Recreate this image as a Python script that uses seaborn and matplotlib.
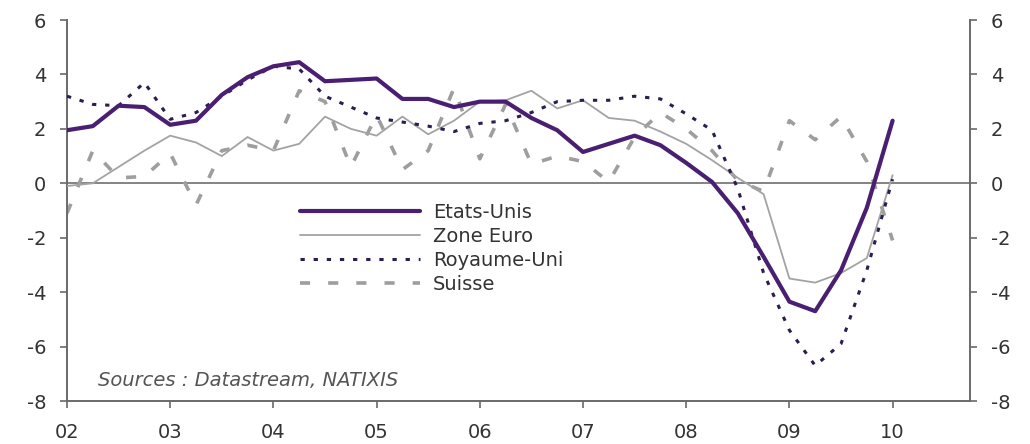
import numpy as np
import pandas as pd
import matplotlib
matplotlib.use("Agg")
import matplotlib.pyplot as plt
import seaborn as sns

# ---- data (quarterly, 2002Q1 .. 2010Q1) ----
periods = pd.period_range("2002Q1", "2010Q1", freq="Q")
etats_unis = [1.95, 2.1, 2.85, 2.8, 2.15, 2.3, 3.25, 3.9, 4.3, 4.45, 3.75, 3.8,
              3.85, 3.1, 3.1, 2.8, 3.0, 3.0, 2.4, 1.95, 1.15, 1.45, 1.75, 1.4,
              0.75, 0.05, -1.1, -2.7, -4.35, -4.7, -3.2, -0.9, 2.3]
zone_euro = [-0.1, 0.0, 0.6, 1.2, 1.75, 1.5, 1.0, 1.7, 1.2, 1.45, 2.45, 2.0,
             1.75, 2.45, 1.8, 2.3, 3.0, 3.05, 3.4, 2.75, 3.05, 2.4, 2.3, 1.9,
             1.45, 0.85, 0.2, -0.4, -3.5, -3.65, -3.3, -2.75, 0.3]
royaume_uni = [3.2, 2.9, 2.85, 3.7, 2.35, 2.6, 3.2, 3.8, 4.3, 4.2, 3.2, 2.8,
               2.4, 2.25, 2.1, 1.9, 2.2, 2.3, 2.6, 3.0, 3.05, 3.05, 3.2, 3.1,
               2.55, 1.95, -0.2, -3.3, -5.4, -6.7, -5.9, -3.2, 0.15]
suisse = [-1.1, 1.2, 0.2, 0.25, 1.1, -0.8, 1.2, 1.4, 1.2, 3.4, 3.0, 0.6,
          2.5, 0.5, 1.2, 3.5, 0.9, 2.9, 0.7, 1.0, 0.8, 0.05, 1.7, 2.6,
          2.0, 1.2, 0.1, -0.3, 2.3, 1.6, 2.45, 0.8, -2.1]
series_names = ["Etats-Unis", "Zone Euro", "Royaume-Uni", "Suisse"]
year_ticks = [2002, 2003, 2004, 2005, 2006, 2007, 2008, 2009, 2010]
year_labels = ["02", "03", "04", "05", "06", "07", "08", "09", "10"]
y_ticks = [-8, -6, -4, -2, 0, 2, 4, 6]
source_text = "Sources : Datastream, NATIXIS"

t = np.array([p.year + (p.quarter - 1) / 4 for p in periods])
df = pd.DataFrame({"t": t, "Etats-Unis": etats_unis, "Zone Euro": zone_euro,
                   "Royaume-Uni": royaume_uni, "Suisse": suisse})

sns.set_theme(style="white")
plt.rcParams["font.family"] = ["DejaVu Sans"]
plt.rcParams["axes.unicode_minus"] = False

W, H = 1030, 444
fig = plt.figure(figsize=(W / 100, H / 100), dpi=100)
L, R, T, B = 67, 970, 20, 401
ax = fig.add_axes([L / W, 1 - B / H, (R - L) / W, (B - T) / H])

styles = {
    "Suisse": dict(color="#9e9e9e", lw=2.6, linestyle=(0, (2.8, 5.0)), zorder=2),
    "Zone Euro": dict(color="#a3a3a3", lw=1.3, linestyle="-", zorder=3),
    "Royaume-Uni": dict(color="#2d1d4e", lw=2.2, linestyle=(0, (1.4, 2.9)), zorder=4),
    "Etats-Unis": dict(color="#4a1f72", lw=3.0, linestyle="-", zorder=5),
}
handles = {}
for name in ["Suisse", "Zone Euro", "Royaume-Uni", "Etats-Unis"]:
    st = styles[name]
    sns.lineplot(data=df, x="t", y=name, ax=ax, color=st["color"], linewidth=st["lw"],
                 linestyle=st["linestyle"], zorder=st["zorder"], label=name)
    handles[name] = ax.lines[-1]

ax.axhline(0, color="#7a7a7a", lw=1.3, zorder=1.5)

ax.set_xlim(2002, 2010.75)
ax.set_ylim(-8, 6)
ax.set_xticks(year_ticks)
ax.set_xticklabels(year_labels)
ax.set_yticks(y_ticks)
ax.set_xlabel("")
ax.set_ylabel("")

for side in ["left", "bottom", "right"]:
    ax.spines[side].set_visible(True)
    ax.spines[side].set_color("#6a6a6a")
    ax.spines[side].set_linewidth(1.4)
ax.spines["top"].set_visible(False)

ax.tick_params(axis="x", bottom=True, direction="out", length=5, width=1.2,
               color="#6a6a6a", pad=11, labelsize=14, labelcolor="#333333")
ax.tick_params(axis="y", left=True, right=True, labelleft=True, labelright=True,
               direction="out", length=5, width=1.2, color="#6a6a6a", pad=10,
               labelsize=14, labelcolor="#333333")

leg = ax.legend([handles[n] for n in series_names], series_names,
                loc="upper left", bbox_to_anchor=(290 / W, 1 - 193 / H),
                bbox_transform=fig.transFigure, frameon=False, borderpad=0,
                handlelength=6.2, handletextpad=0.65, labelspacing=0.26,
                fontsize=14)
for txt in leg.get_texts():
    txt.set_color("#333333")

fig.text(98 / W, 1 - 386 / H, source_text, style="italic", fontsize=14,
         color="#555555", va="baseline", ha="left")

fig.savefig("out.png", dpi=100)
